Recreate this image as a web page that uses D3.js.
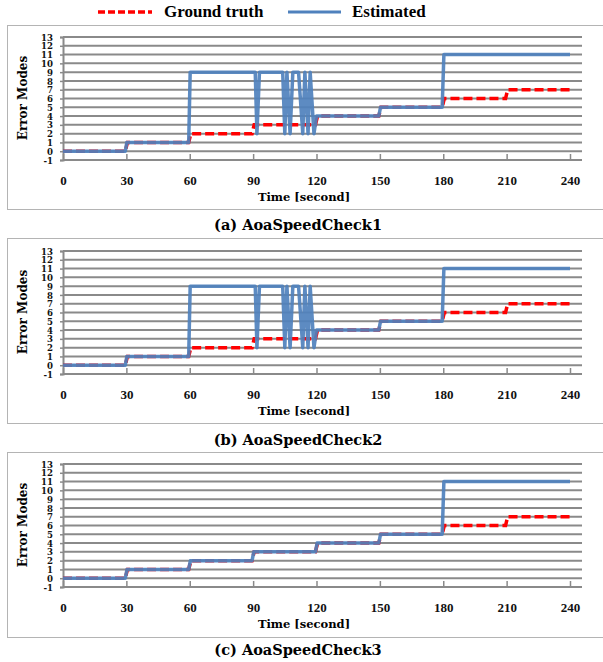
<!DOCTYPE html>
<html><head><meta charset="utf-8">
<script src="https://cdn.jsdelivr.net/npm/d3@7"></script>
<style>body{margin:0;background:#fff}svg{display:block}</style>
</head><body>
<svg id="c" width="603" height="662"></svg>
<script>
// ---- data ----
const panelTitles = ["(a) AoaSpeedCheck1", "(b) AoaSpeedCheck2", "(c) AoaSpeedCheck3"];
const xTicks = [0, 30, 60, 90, 120, 150, 180, 210, 240];
const yTicks = [-1,0,1,2,3,4,5,6,7,8,9,10,11,12,13];
const seriesNames = ["Ground truth", "Estimated"];

const gtTime  = [0, 29.5, 30.5, 59.5, 60.5, 89.5, 90.5, 119.5, 120.5, 149.5, 150.5, 179.5, 180.5, 209.5, 210.5, 240];
const gtValue = [0, 0,    1,    1,    2,    2,    3,    3,     4,     4,     5,     5,     6,     6,     7,     7];

const estABTime  = [0, 29.5, 30.2, 59.5, 60.2, 91, 91.8, 93, 104, 105, 106, 107.5, 108.8, 111.5, 113.5, 114.5, 116, 117, 118.8, 120, 149.5, 150.3, 179.5, 180.3, 240];
const estABValue = [0, 0,    1,    1,    9,    9,  2,    9,  9,   2,   9,   2,     9,     9,     2,     9,     2,   9,   2,     4,   4,     5,     5,     11,    11];

const estCTime  = [0, 29.5, 30.3, 59.5, 60.3, 89.5, 90.3, 119.5, 120.3, 149.5, 150.3, 179.5, 180.3, 240];
const estCValue = [0, 0,    1,    1,    2,    2,    3,    3,     4,     4,     5,     5,     11,    11];

const estimates = [[estABTime, estABValue], [estABTime, estABValue], [estCTime, estCValue]];

// ---- layout ----
const svg = d3.select("#c");
const serif = "'Liberation Serif','DejaVu Serif',serif";
const wide = "'DejaVu Serif','Liberation Serif',serif";
const gridTops = [37, 251, 464];
const boxTops = [25, 238, 452];
const boxBottoms = [209, 423, 637];
const captionY = [230, 445, 655];
const plotH = 123;
const x = d3.scaleLinear().domain([0, 240]).range([63, 570]);
const gridRight = 582;
const red = "#ff0000", blue = "#4f81bd", gridCol = "#8a8a8a";

// legend
const leg = svg.append("g");
leg.append("line").attr("x1", 98).attr("x2", 152).attr("y1", 12).attr("y2", 12)
  .attr("stroke", red).attr("stroke-width", 3.5).attr("stroke-dasharray", "7,3");
leg.append("text").attr("x", 164).attr("y", 17).text(seriesNames[0])
  .attr("font-family", serif).attr("font-weight", "bold").attr("font-size", 17);
leg.append("line").attr("x1", 288).attr("x2", 341).attr("y1", 12).attr("y2", 12)
  .attr("stroke", blue).attr("stroke-width", 3);
leg.append("text").attr("x", 352).attr("y", 17).text(seriesNames[1])
  .attr("font-family", serif).attr("font-weight", "bold").attr("font-size", 17);

panelTitles.forEach((title, i) => {
  const g = svg.append("g");
  const top = gridTops[i];
  const y = d3.scaleLinear().domain([-1, 13]).range([top + plotH, top]);

  // box
  g.append("rect").attr("x", 7.5).attr("y", boxTops[i] + 0.5).attr("width", 600)
    .attr("height", boxBottoms[i] - boxTops[i]).attr("fill", "none").attr("stroke", "#b4b4b4").attr("stroke-width", 1);

  // gridlines
  g.selectAll(".grid").data(yTicks).enter().append("line")
    .attr("x1", x(0)).attr("x2", gridRight).attr("y1", d => y(d)).attr("y2", d => y(d))
    .attr("stroke", gridCol).attr("stroke-width", 2);

  // y axis
  const ya = d3.axisLeft(y).tickValues(yTicks).tickSize(3).tickPadding(7).tickFormat(d => String(d));
  const yg = g.append("g").attr("transform", `translate(${x(0)},0)`).call(ya);
  yg.select(".domain").attr("stroke", gridCol).attr("stroke-width", 2);
  yg.selectAll(".tick line").attr("stroke", gridCol).attr("stroke-width", 1.5);
  yg.selectAll("text").attr("font-family", wide).attr("font-weight", "bold").attr("font-size", 8.6)
    .attr("dy", "0.36em").attr("fill", "#111");

  // x axis (ticks pointing up from the -1 line, labels lower)
  const xa = d3.axisBottom(x).tickValues(xTicks).tickSize(-6).tickPadding(0).tickFormat(d => String(d));
  const xg = g.append("g").attr("transform", `translate(0,${y(-1)})`).call(xa);
  xg.select(".domain").remove();
  xg.selectAll(".tick line").attr("stroke", gridCol).attr("stroke-width", 1.5);
  xg.selectAll("text").attr("y", 25).attr("dy", "0").attr("font-family", serif).attr("font-weight", "bold")
    .attr("font-size", 13).attr("fill", "#111");

  // axis titles
  g.append("text").attr("x", 304).attr("y", top + 164).attr("text-anchor", "middle")
    .attr("font-family", wide).attr("font-weight", "bold").attr("font-size", 11.5).text("Time [second]");
  g.append("text").attr("transform", `translate(27,${top + 61}) rotate(-90)`).attr("text-anchor", "middle")
    .attr("font-family", wide).attr("font-weight", "bold").attr("font-size", 12).text("Error Modes");

  // caption
  g.append("text").attr("x", 298).attr("y", captionY[i]).attr("text-anchor", "middle")
    .attr("font-family", wide).attr("font-weight", "bold").attr("font-size", 14.5).text(title);

  // series
  const line = d3.line().x(d => x(d[0])).y(d => y(d[1]));
  const gt = gtTime.map((t, k) => [t, gtValue[k]]);
  const [et, ev] = estimates[i];
  const es = et.map((t, k) => [t, ev[k]]);
  g.append("path").attr("d", line(gt)).attr("fill", "none").attr("stroke", red)
    .attr("stroke-width", 3.5).attr("stroke-dasharray", "9,4");
  g.append("path").attr("d", line(es)).attr("fill", "none").attr("stroke", blue)
    .attr("stroke-width", 3.5).attr("stroke-opacity", 0.92).attr("stroke-linejoin", "round");
});
</script>
</body></html>
